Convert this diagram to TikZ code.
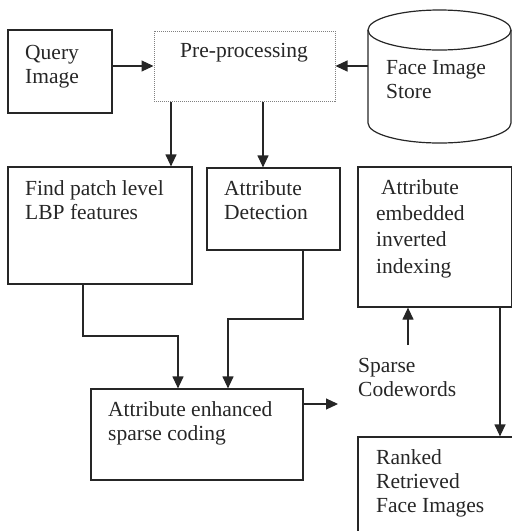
\documentclass[tikz,border=0pt]{standalone}
\usepackage{fontspec}
\setmainfont{Liberation Serif}
\usetikzlibrary{arrows.meta,fit}
\definecolor{linec}{HTML}{262626}
\definecolor{txtc}{HTML}{262626}
\begin{document}
\begin{tikzpicture}[x=1pt,y=-1pt,
  box/.style={draw=linec, line width=1.2pt, inner sep=0pt},
  lbl/.style={anchor=north west, inner sep=0pt, align=left, text=txtc, font=\fontsize{21.5}{24.5}\selectfont},
  arr/.style={draw=linec, line width=1.2pt, -{Triangle[length=12pt,width=11pt]}},
  ln/.style={draw=linec, line width=1.2pt}]
\useasboundingbox (0,0) rectangle (512,531);
\clip (0,0) rectangle (512,531);
% boxes
\node[box, fit={(8,30)(112,113)}] (q) {};
\node[box, draw=gray, line width=1pt, dash pattern=on 1pt off 1pt, fit={(154,31)(335,101)}] (pre) {};
\draw[ln] (368,30) -- (368,123) arc[start angle=180, end angle=0, x radius=71.5, y radius=20] -- (511,30);
\draw[ln] (439.5,30) ellipse[x radius=71.5, y radius=20];
\node[inner sep=0pt, fit={(368,10)(511,143)}] (store) {};
\node[box, fit={(8,167)(192,284)}] (find) {};
\node[box, fit={(207,168)(340,250)}] (det) {};
\node[box, fit={(358,167)(511.5,307)}] (emb) {};
\node[box, fit={(91,389)(303,480)}] (enh) {};
\node[box, fit={(358,437)(520,545)}] (rank) {};
% texts
\node[lbl] (qt) at (25,45) {Query\\Image};
\node[lbl] (pret) at (180,43) {Pre-processing};
\node[lbl] (storet) at (386,60) {Face Image\\Store};
\node[lbl] (findt) at (25,180) {Find patch level\\LBP features};
\node[lbl] (dett) at (224,180) {Attribute\\Detection};
\node[lbl, font=\fontsize{21.5}{26.3}\selectfont] (embt) at (376,179) {\hspace{5pt}Attribute\\embedded\\inverted\\indexing};
\node[lbl] (enht) at (108,401) {Attribute enhanced\\sparse coding};
\node[lbl] (spt) at (358,358) {Sparse\\Codewords};
\node[lbl, font=\fontsize{21.5}{24}\selectfont] (rankt) at (376,449) {Ranked\\Retrieved\\Face Images};
% helper coordinates
\coordinate (xa) at (171,0);
\coordinate (xb) at (263,0);
\coordinate (sp) at (338,404);
\coordinate (su) at (408,345);
\coordinate (xr) at (500,0);
% connectors
\draw[arr] (q.east |- pre.west) -- (pre.west);
\draw[arr] (store.west |- pre.east) -- (pre.east);
\draw[arr] (pre.south -| xa) -- (find.north -| xa);
\draw[arr] (pre.south -| xb) -- (det.north -| xb);
\draw[arr] (find.south -| 83,0) -- (83,336) -- (178,336) -- (enh.north -| 178,0);
\draw[arr] (det.south -| 303,0) -- (303,319) -- (228,319) -- (enh.north -| 228,0);
\draw[arr] (enh.east |- sp) -- (sp);
\draw[arr] (su) -- (emb.south -| su);
\draw[arr] (emb.south -| xr) -- (rank.north -| xr);
\end{tikzpicture}
\end{document}
